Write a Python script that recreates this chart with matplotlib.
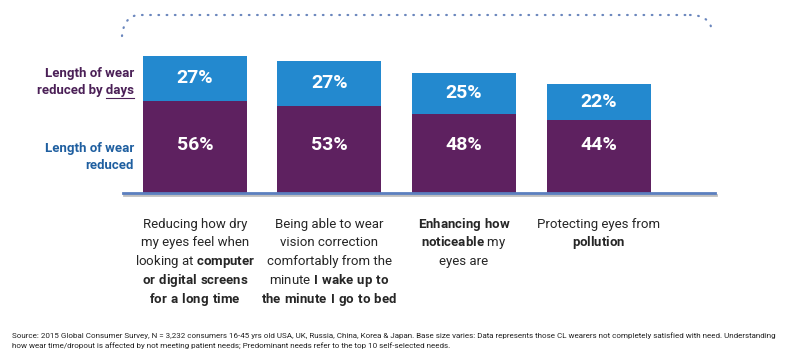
import numpy as np
import matplotlib
matplotlib.use("Agg")
import matplotlib.pyplot as plt
import matplotlib.patheffects as pe
from matplotlib.path import Path
from matplotlib.patches import PathPatch

# fonts: Roboto is the narrowest installed sans
plt.rcParams['font.family'] = ['Roboto', 'DejaVu Sans']
plt.rcParams['mathtext.fontset'] = 'custom'
plt.rcParams['mathtext.rm'] = 'Roboto'
plt.rcParams['mathtext.bf'] = 'Roboto:bold'

# data
needs = [
    "Reducing how dry\nmy eyes feel when\nlooking at $\\mathbf{computer}$\n$\\mathbf{or\\ digital\\ screens}$\n$\\mathbf{for\\ a\\ long\\ time}$",
    "Being able to wear\nvision correction\ncomfortably from the\nminute $\\mathbf{I\\ wake\\ up\\ to}$\n$\\mathbf{the\\ minute\\ I\\ go\\ to\\ bed}$",
    "$\\mathbf{Enhancing\\ how}$\n$\\mathbf{noticeable}$ my\neyes are",
    "Protecting eyes from\n$\\mathbf{pollution}$",
]
reduced = [56, 53, 48, 44]
reduced_days = [27, 27, 25, 22]

source = ("Source: 2015 Global Consumer Survey, N = 3,232 consumers 16-45 yrs old USA, UK, Russia, China, Korea & Japan. "
          "Base size varies: Data represents those CL wearers not completely satisfied with need. Understanding\n"
          "how wear time/dropout is affected by not meeting patient needs; Predominant needs refer to the top 10 self-selected needs.")

purple = "#5e2160"
blue = "#2389cf"
axis_blue = "#5b7fbf"

fig = plt.figure(figsize=(8, 3.53), dpi=100)
ax = fig.add_axes([123 / 800, 160 / 353, 592 / 800, 193 / 353])

x = np.arange(len(reduced))
ax.bar(x, reduced, width=0.773, color=purple)
ax.bar(x, reduced_days, width=0.773, bottom=reduced, color=blue)

for i in x:
    ax.text(i, 29, f"{reduced[i]}%", ha='center', va='center', color='white',
            fontsize=14, fontweight='bold')
    ax.text(i, reduced[i] + reduced_days[i] / 2, f"{reduced_days[i]}%", ha='center', va='center',
            color='white', fontsize=14, fontweight='bold')
    # one line at a time so mixed bold lines keep an even spacing
    for k, line in enumerate(needs[i].split("\n")):
        ax.annotate(line, xy=(i, 0), xytext=(0, -25 - k * 13.5), textcoords='offset points',
                    ha='center', va='baseline', fontsize=9.5, color='#262626',
                    annotation_clip=False)

ax.set_xlim(-0.535, 3.866)
ax.set_ylim(0, 117)
for s in ['top', 'right', 'left']:
    ax.spines[s].set_visible(False)
ax.spines['bottom'].set_color(axis_blue)
ax.spines['bottom'].set_linewidth(2)
ax.spines['bottom'].set_path_effects([pe.SimpleLineShadow(offset=(0.5, -1.5), alpha=0.25), pe.Normal()])
ax.set_xticks([])
ax.set_yticks([])

# row labels on the left
lab1 = fig.text(134 / 800, 1 - 82 / 353, "Length of wear\nreduced by days", ha='right', va='center',
                color="#4b2057", fontsize=9.5, fontweight='bold', linespacing=1.4)
fig.text(134 / 800, 1 - 157 / 353, "Length of wear\nreduced", ha='right', va='center',
         color="#1f5fa0", fontsize=9.5, fontweight='bold', linespacing=1.4)

# underline under "days"
fig.canvas.draw()
r = fig.canvas.get_renderer()
bb = lab1.get_window_extent(r)
tmp = fig.text(0, 0, "days", fontsize=9.5, fontweight='bold')
w = tmp.get_window_extent(r).width
tmp.remove()
fig.add_artist(plt.Line2D([bb.x1 - w, bb.x1], [bb.y0 - 1, bb.y0 - 1], transform=None,
                          color="#4b2057", lw=0.8))

# dotted bracket over the bars
ov = fig.add_axes([0, 0, 1, 1], facecolor='none')
ov.set_xlim(0, 800)
ov.set_ylim(353, 0)
ov.axis('off')
verts = [(122, 36), (124, 15), (140, 15), (690, 15), (690, 15), (710, 15), (712, 31)]
codes = [Path.MOVETO, Path.CURVE3, Path.CURVE3, Path.LINETO, Path.MOVETO, Path.CURVE3, Path.CURVE3]
ov.add_patch(PathPatch(Path(verts, codes), fill=False, edgecolor="#6a86bd", lw=1.6,
                       linestyle=(0, (0.3, 3.4)), capstyle='round'))

fig.text(0.015, 0.036, source, ha='left', va='center', fontsize=5.8, color='#222222', linespacing=1.5)

fig.savefig("out.png", dpi=100)
